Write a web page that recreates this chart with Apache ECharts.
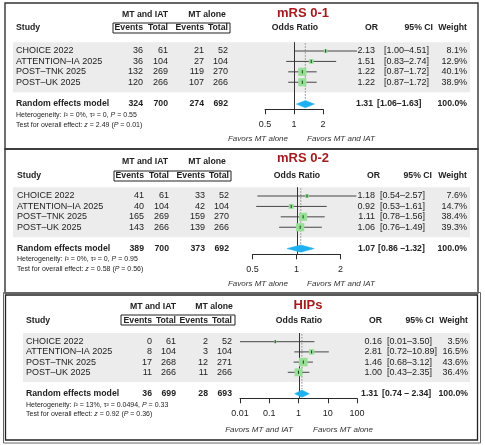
<!DOCTYPE html>
<html><head><meta charset="utf-8">
<script src="https://cdn.jsdelivr.net/npm/echarts@6/dist/echarts.min.js"></script>
<style>html,body{margin:0;padding:0;background:#fff}#c{width:485px;height:445px}</style>
</head><body><div id="c"></div>
<script>
// ---------------- DATA ----------------
const studies = ['CHOICE 2022', 'ATTENTION–IA 2025', 'POST–TNK 2025', 'POST–UK 2025'];

// mRS 0-1
const mrs01EventsIAT = [36, 36, 132, 120];
const mrs01TotalIAT  = [61, 104, 269, 266];
const mrs01EventsMT  = [21, 27, 119, 107];
const mrs01TotalMT   = [52, 104, 270, 266];
const mrs01OR     = [2.13, 1.51, 1.22, 1.22];
const mrs01Lower  = [1.00, 0.83, 0.87, 0.87];
const mrs01Upper  = [4.51, 2.74, 1.72, 1.72];
const mrs01Weight = [8.1, 12.9, 40.1, 38.9];
const mrs01Sums   = [324, 700, 274, 692];
const mrs01Pooled = [1.31, 1.06, 1.63];
const mrs01Stats  = { i2: '0%', tau2: '0', p: '0.55', z: '2.49', pz: '0.01' };

// mRS 0-2
const mrs02EventsIAT = [41, 40, 165, 143];
const mrs02TotalIAT  = [61, 104, 269, 266];
const mrs02EventsMT  = [33, 42, 159, 139];
const mrs02TotalMT   = [52, 104, 270, 266];
const mrs02OR     = [1.18, 0.92, 1.11, 1.06];
const mrs02Lower  = [0.54, 0.53, 0.78, 0.76];
const mrs02Upper  = [2.57, 1.61, 1.56, 1.49];
const mrs02Weight = [7.6, 14.7, 38.4, 39.3];
const mrs02Sums   = [389, 700, 373, 692];
const mrs02Pooled = [1.07, 0.86, 1.32];
const mrs02Stats  = { i2: '0%', tau2: '0', p: '0.95', z: '0.58', pz: '0.56' };

// HIPs
const hipsEventsIAT = [0, 8, 17, 11];
const hipsTotalIAT  = [61, 104, 268, 266];
const hipsEventsMT  = [2, 3, 12, 11];
const hipsTotalMT   = [52, 104, 271, 266];
const hipsOR     = [0.16, 2.81, 1.46, 1.00];
const hipsLower  = [0.01, 0.72, 0.68, 0.43];
const hipsUpper  = [3.50, 10.89, 3.12, 2.35];
const hipsWeight = [3.5, 16.5, 43.6, 36.4];
const hipsSums   = [36, 699, 28, 693];
const hipsPooled = [1.31, 0.74, 2.34];
const hipsStats  = { i2: '13%', tau2: '0.0494', p: '0.33', z: '0.92', pz: '0.36' };

const titles = ['mRS 0-1', 'mRS 0-2', 'HIPs'];
const favorsLabels = [
  ['Favors MT alone', 'Favors MT and IAT'],
  ['Favors MT alone', 'Favors MT and IAT'],
  ['Favors MT and IAT', 'Favors MT alone']
];

// ---------------- LAYOUT ----------------
const FONT = '"Liberation Sans", Arial, Helvetica, sans-serif';
const TXT = '#222';
const panels = [
  { title: titles[0], fav: favorsLabels[0], stats: mrs01Stats,
    d: { ev1: mrs01EventsIAT, t1: mrs01TotalIAT, ev2: mrs01EventsMT, t2: mrs01TotalMT, or: mrs01OR, lo: mrs01Lower, hi: mrs01Upper, w: mrs01Weight, sums: mrs01Sums, pooled: mrs01Pooled },
    titleX: 303, titleY: 13, grpY: 15, hdrY: 28, boxX: [113, 230], boxY: [23, 33], grpX: [145, 207], studyX: 16,
    cols: [143, 168, 204, 228], orX: 375, ciX: 384, wX: 467, sumOrX: 373, sumCiX: 377, sep: '–',
    orHdrX: 378, ciHdrX: 433, wHdrX: 467, orCenter: 295,
    row0: 40.6, rowH: 10.41, axisY: 109.3, sumRow: 6.1,
    logBase: 2, axMin: 0.5, axMax: 2, axL: 265, axR: 323,
    bandX: [13, 470], hetY: 115, testY: 125, favY: 139, favL: 288, favR: 307 },
  { title: titles[1], fav: favorsLabels[1], stats: mrs02Stats,
    d: { ev1: mrs02EventsIAT, t1: mrs02TotalIAT, ev2: mrs02EventsMT, t2: mrs02TotalMT, or: mrs02OR, lo: mrs02Lower, hi: mrs02Upper, w: mrs02Weight, sums: mrs02Sums, pooled: mrs02Pooled },
    titleX: 303, titleY: 158, grpY: 162, hdrY: 176, boxX: [114, 231], boxY: [171, 181], grpX: [145, 207], studyX: 17,
    cols: [144, 169, 205, 229], orX: 375, ciX: 380, wX: 467, sumOrX: 375, sumCiX: 378, sep: ' –',
    orHdrX: 380, ciHdrX: 432, wHdrX: 467, orCenter: 297,
    row0: 185.6, rowH: 10.41, axisY: 254.3, sumRow: 6.05,
    logBase: 2, axMin: 0.5, axMax: 2, axL: 252.5, axR: 340.5,
    bandX: [13, 470], hetY: 259.3, testY: 269.3, favY: 283.3, favL: 288, favR: 307 },
  { title: titles[2], fav: favorsLabels[2], stats: hipsStats,
    d: { ev1: hipsEventsIAT, t1: hipsTotalIAT, ev2: hipsEventsMT, t2: hipsTotalMT, or: hipsOR, lo: hipsLower, hi: hipsUpper, w: hipsWeight, sums: hipsSums, pooled: hipsPooled },
    titleX: 308, titleY: 305, grpY: 307, hdrY: 321, boxX: [121, 235], boxY: [315, 325], grpX: [153, 214], studyX: 26,
    cols: [152, 176, 208, 232], orX: 382, ciX: 387, wX: 468, sumOrX: 378, sumCiX: 382, sep: ' – ',
    orHdrX: 382, ciHdrX: 434, wHdrX: 468, orCenter: 299,
    row0: 331.5, rowH: 10.2, axisY: 398.3, sumRow: 6.1,
    logBase: 10, axMin: 0.01, axMax: 100, axL: 240, axR: 357,
    bandX: [23, 470], hetY: 405, testY: 414.3, favY: 429.3, favL: 293, favR: 313 }
];

const grids = [], xAxes = [], yAxes = [], series = [], graphics = [];

function txt(x, y, text, opt) {
  opt = opt || {};
  return { type: 'text', x: x, y: y, z: 5, silent: true,
    style: { text: text, align: opt.align || 'left', verticalAlign: 'middle',
      fontSize: opt.size || 9, fontFamily: FONT, fontWeight: opt.bold ? 'bold' : 'normal',
      fontStyle: opt.italic ? 'italic' : 'normal', fill: opt.color || TXT, rich: opt.rich } };
}

// panel borders
graphics.push({ type: 'rect', shape: { x: 5, y: 3, width: 473, height: 146 }, style: { fill: null, stroke: '#333', lineWidth: 1.4 }, z: 1 });
graphics.push({ type: 'rect', shape: { x: 5, y: 149, width: 473, height: 144 }, style: { fill: null, stroke: '#333', lineWidth: 1.4 }, z: 1 });
graphics.push({ type: 'rect', shape: { x: 3.5, y: 292.5, width: 477, height: 150.5 }, style: { fill: null, stroke: '#666', lineWidth: 1 }, z: 1 });
graphics.push({ type: 'rect', shape: { x: 5.5, y: 295, width: 472, height: 145 }, style: { fill: null, stroke: '#222', lineWidth: 1.3 }, z: 1 });

panels.forEach(function (P, k) {
  const D = P.d;
  const yMax = (P.axisY - P.row0) / P.rowH;
  const gH = P.axisY - P.row0;
  grids.push({ left: P.axL, width: P.axR - P.axL, top: P.row0, height: gH, outerBoundsMode: 'none', containLabel: false });
  grids.push({ left: 0, width: 485, top: P.row0, height: gH, outerBoundsMode: 'none', containLabel: false });
  xAxes.push({ type: 'log', gridIndex: 2 * k, logBase: P.logBase, min: P.axMin, max: P.axMax, position: 'bottom',
    axisLine: { show: true, onZero: false, lineStyle: { color: '#2a2a2a', width: 1 } },
    axisTick: { show: true, inside: false, length: 5, lineStyle: { color: '#2a2a2a', width: 1 } },
    minorTick: { show: false }, splitLine: { show: false },
    axisLabel: { margin: 11, fontSize: 9, color: TXT, fontFamily: FONT, showMinLabel: true, showMaxLabel: true,
      formatter: function (v) { return String(+(+v).toPrecision(3)); } } });
  xAxes.push({ type: 'value', gridIndex: 2 * k + 1, min: 0, max: 485, show: false });
  yAxes.push({ type: 'value', gridIndex: 2 * k, min: 0, max: yMax, inverse: true, show: false });
  yAxes.push({ type: 'value', gridIndex: 2 * k + 1, min: 0, max: yMax, inverse: true, show: false });

  // background band
  graphics.push({ type: 'rect', z: 0, silent: true,
    shape: { x: P.bandX[0], y: P.row0 + 0.15 * P.rowH, width: P.bandX[1] - P.bandX[0], height: 4.8 * P.rowH },
    style: { fill: '#ececec' } });

  // headers
  graphics.push(txt(P.titleX, P.titleY, P.title, { align: 'center', bold: true, size: 13, color: '#a31b1f' }));
  graphics.push(txt(P.grpX[0], P.grpY, 'MT and IAT', { align: 'center', bold: true, size: 8.7 }));
  graphics.push(txt(P.grpX[1], P.grpY, 'MT alone', { align: 'center', bold: true, size: 8.7 }));
  graphics.push(txt(P.studyX, P.hdrY, 'Study', { bold: true, size: 8.7 }));
  graphics.push({ type: 'rect', z: 4, silent: true, shape: { x: P.boxX[0], y: P.boxY[0], width: P.boxX[1] - P.boxX[0], height: P.boxY[1] - P.boxY[0] },
    style: { fill: null, stroke: '#222', lineWidth: 1 } });
  ['Events', 'Total', 'Events', 'Total'].forEach(function (h, j) {
    graphics.push(txt(P.cols[j], P.hdrY, h, { align: 'right', bold: true, size: 8.7 }));
  });
  graphics.push(txt(P.orCenter, P.hdrY, 'Odds Ratio', { align: 'center', bold: true, size: 8.7 }));
  graphics.push(txt(P.orHdrX, P.hdrY, 'OR', { align: 'right', bold: true, size: 8.7 }));
  graphics.push(txt(P.ciHdrX, P.hdrY, '95% CI', { align: 'right', bold: true, size: 8.7 }));
  graphics.push(txt(P.wHdrX, P.hdrY, 'Weight', { align: 'right', bold: true, size: 8.7 }));

  // heterogeneity / overall effect
  const S = P.stats;
  const richSt = { i: { fontStyle: 'italic', fontSize: 7, fontFamily: FONT, fill: TXT } };
  graphics.push(txt(P.studyX, P.hetY, 'Heterogeneity: {i|I}² = ' + S.i2 + ', τ² = ' + S.tau2 + ', {i|P} = ' + S.p, { size: 7, rich: richSt }));
  graphics.push(txt(P.studyX, P.testY, 'Test for overall effect: {i|z} = ' + S.z + ' ({i|P} = ' + S.pz + ')', { size: 7, rich: richSt }));

  // favors
  graphics.push(txt(P.favL, P.favY, P.fav[0], { align: 'right', italic: true, size: 8, color: '#333' }));
  graphics.push(txt(P.favR, P.favY, P.fav[1], { align: 'left', italic: true, size: 8, color: '#333' }));

  // reference lines (null effect solid, pooled dotted)
  series.push({ type: 'custom', xAxisIndex: 2 * k, yAxisIndex: 2 * k, z: 2, silent: true,
    data: [[1, D.pooled[0]]],
    renderItem: function (params, api) {
      const a = api.coord([api.value(0), 0.15]);
      const b = api.coord([api.value(0), yMax]);
      const c = api.coord([api.value(1), 0.25]);
      const d = api.coord([api.value(1), P.sumRow - 0.45]);
      return { type: 'group', children: [
        { type: 'line', shape: { x1: Math.round(a[0]) + 0.5, y1: a[1], x2: Math.round(b[0]) + 0.5, y2: b[1] }, style: { stroke: '#333', lineWidth: 1 } },
        { type: 'line', shape: { x1: c[0], y1: c[1], x2: d[0], y2: d[1] }, style: { stroke: '#888', lineWidth: 1, lineDash: [1.5, 1.5] } }
      ] };
    } });

  // study estimates
  series.push({ type: 'custom', xAxisIndex: 2 * k, yAxisIndex: 2 * k, z: 3, silent: true, clip: false,
    data: D.or.map(function (v, i) { return [v, D.lo[i], D.hi[i], D.w[i], i + 1]; }),
    renderItem: function (params, api) {
      const row = api.value(4);
      const pO = api.coord([api.value(0), row]);
      const pL = api.coord([api.value(1), row]);
      const pH = api.coord([api.value(2), row]);
      const s = 1.3 * Math.sqrt(api.value(3));
      return { type: 'group', children: [
        { type: 'line', shape: { x1: pL[0], y1: pL[1], x2: pH[0], y2: pH[1] }, style: { stroke: '#333', lineWidth: 0.9 } },
        { type: 'rect', shape: { x: pO[0] - s / 2, y: pO[1] - s / 2, width: s, height: s }, style: { fill: '#97df97' } },
        { type: 'line', shape: { x1: pO[0], y1: pO[1] - 1.6, x2: pO[0], y2: pO[1] + 1.6 }, style: { stroke: '#1d3d1d', lineWidth: 1 } }
      ] };
    } });

  // pooled diamond
  series.push({ type: 'custom', xAxisIndex: 2 * k, yAxisIndex: 2 * k, z: 3, silent: true, clip: false,
    data: [[D.pooled[0], D.pooled[1], D.pooled[2], P.sumRow]],
    renderItem: function (params, api) {
      const row = api.value(3);
      const c = api.coord([api.value(0), row]);
      const l = api.coord([api.value(1), row]);
      const r = api.coord([api.value(2), row]);
      return { type: 'polygon', shape: { points: [[l[0], c[1]], [c[0], c[1] - 3.6], [r[0], c[1]], [c[0], c[1] + 3.6]] },
        style: { fill: '#1fb0f0', stroke: '#1fb0f0', lineWidth: 0.5 } };
    } });

  // table text cells
  const cells = [];
  const fmtCI = function (lo, hi, sep) { return '[' + lo.toFixed(2) + sep + hi.toFixed(2) + ']'; };
  studies.forEach(function (name, i) {
    const r = i + 1;
    cells.push({ x: P.studyX, r: r, t: name, a: 'left' });
    cells.push({ x: P.cols[0], r: r, t: String(D.ev1[i]), a: 'right' });
    cells.push({ x: P.cols[1], r: r, t: String(D.t1[i]), a: 'right' });
    cells.push({ x: P.cols[2], r: r, t: String(D.ev2[i]), a: 'right' });
    cells.push({ x: P.cols[3], r: r, t: String(D.t2[i]), a: 'right' });
    cells.push({ x: P.orX, r: r, t: D.or[i].toFixed(2), a: 'right' });
    cells.push({ x: P.ciX, r: r, t: fmtCI(D.lo[i], D.hi[i], '–'), a: 'left' });
    cells.push({ x: P.wX, r: r, t: D.w[i].toFixed(1) + '%', a: 'right' });
  });
  const sr = P.sumRow;
  cells.push({ x: P.studyX, r: sr, t: 'Random effects model', a: 'left', b: true });
  D.sums.forEach(function (v, j) { cells.push({ x: P.cols[j], r: sr, t: String(v), a: 'right', b: true }); });
  cells.push({ x: P.sumOrX, r: sr, t: D.pooled[0].toFixed(2), a: 'right', b: true });
  cells.push({ x: P.sumCiX, r: sr, t: fmtCI(D.pooled[1], D.pooled[2], P.sep), a: 'left', b: true });
  cells.push({ x: P.wX, r: sr, t: D.w.reduce(function (s, v) { return s + v; }, 0).toFixed(1) + '%', a: 'right', b: true });

  series.push({ type: 'custom', xAxisIndex: 2 * k + 1, yAxisIndex: 2 * k + 1, z: 4, silent: true, clip: false,
    data: cells.map(function (c) { return [c.x, c.r]; }),
    renderItem: function (params, api) {
      const c = cells[params.dataIndex];
      const p = api.coord([api.value(0), api.value(1)]);
      const bold = !!c.b;
      return { type: 'text', x: p[0], y: p[1],
        style: { text: c.t, align: c.a, verticalAlign: 'middle', fontSize: bold ? 8.7 : 9, fontWeight: bold ? 'bold' : 'normal',
          fontFamily: FONT, fill: TXT } };
    } });
});

const chart = echarts.init(document.getElementById('c'), null, { renderer: 'canvas' });
chart.setOption({
  animation: false,
  backgroundColor: '#fff',
  grid: grids, xAxis: xAxes, yAxis: yAxes, series: series,
  graphic: { elements: graphics }
});
</script>
</body></html>
